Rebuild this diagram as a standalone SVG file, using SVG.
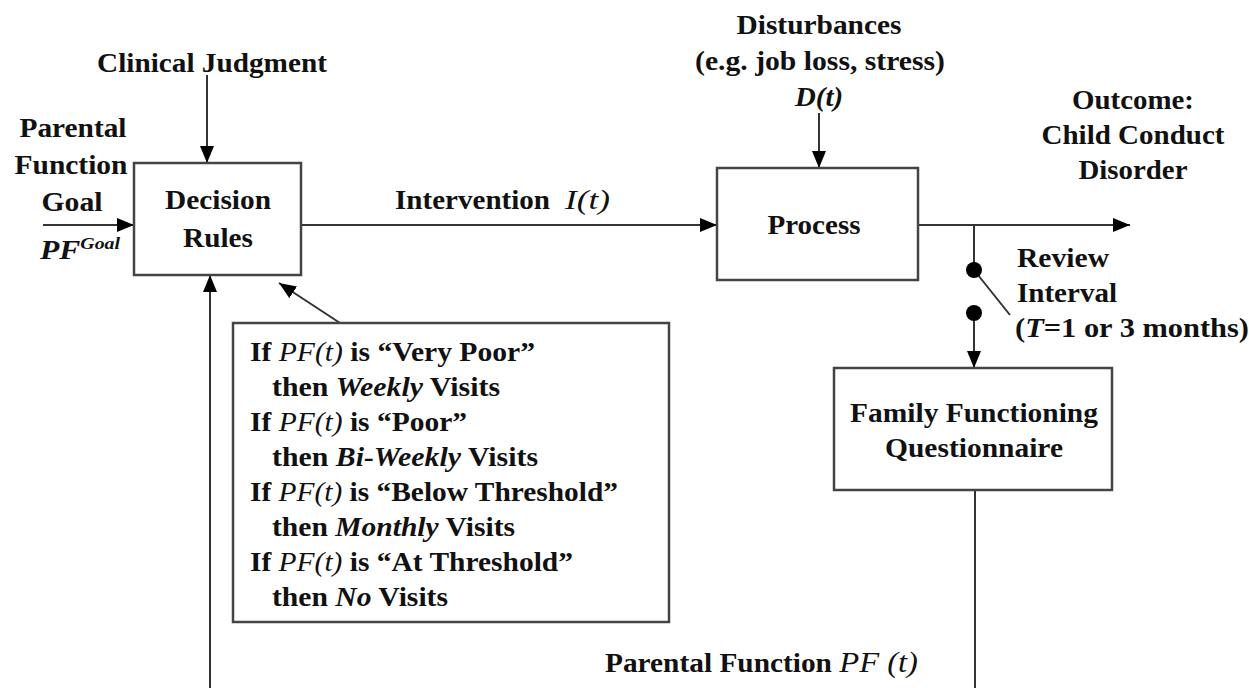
<svg xmlns="http://www.w3.org/2000/svg" width="1249" height="688" viewBox="0 0 1249 688">
<defs>
<marker id="ah" markerUnits="userSpaceOnUse" markerWidth="18" markerHeight="14" refX="17" refY="7" orient="auto">
<path d="M0,0 L17,7 L0,14 Z" fill="#000"/>
</marker>
<style>
text{font-family:"Liberation Serif","Times New Roman",serif;font-weight:bold;font-size:27px;fill:#111}
.c{text-anchor:middle}
.i{font-style:italic}
.n{font-weight:normal}
.box{fill:#fff;stroke:#444;stroke-width:2.5}
.ln{fill:none;stroke:#333;stroke-width:2}
</style>
</defs>
<rect width="1249" height="688" fill="#fff"/>
<g id="connectors">
<line class="ln" x1="207" y1="75" x2="207" y2="163" marker-end="url(#ah)"/>
<line class="ln" x1="43" y1="225" x2="134" y2="225" marker-end="url(#ah)"/>
<line class="ln" x1="301" y1="225" x2="717" y2="225" marker-end="url(#ah)"/>
<line class="ln" x1="819" y1="113" x2="819" y2="168" marker-end="url(#ah)"/>
<line class="ln" x1="918" y1="225" x2="1130" y2="225" marker-end="url(#ah)"/>
<line class="ln" x1="974" y1="225" x2="974" y2="270"/>
<line class="ln" x1="974" y1="270" x2="1010" y2="315"/>
<line class="ln" x1="974" y1="313" x2="974" y2="368" marker-end="url(#ah)"/>
<line class="ln" x1="975" y1="490" x2="975" y2="688"/>
<line class="ln" x1="210" y1="688" x2="210" y2="275" marker-end="url(#ah)"/>
<line class="ln" x1="340" y1="323" x2="279" y2="283" marker-end="url(#ah)"/>
<circle cx="974" cy="270" r="8" fill="#000"/>
<circle cx="974" cy="313" r="8" fill="#000"/>
</g>
<g id="clinical-judgment"><text class="c" x="212" y="72" textLength="230" lengthAdjust="spacingAndGlyphs">Clinical Judgment</text></g>
<g id="goal">
<text class="c" x="73" y="137" textLength="107" lengthAdjust="spacingAndGlyphs">Parental</text>
<text class="c" x="71" y="174" textLength="113" lengthAdjust="spacingAndGlyphs">Function</text>
<text class="c" x="72" y="211" textLength="61" lengthAdjust="spacingAndGlyphs">Goal</text>
<text x="40" y="259" class="i" textLength="80" lengthAdjust="spacingAndGlyphs">PF<tspan font-size="17" dy="-10">Goal</tspan></text>
</g>
<g id="decision-rules">
<rect class="box" x="134" y="163" width="167" height="112"/>
<text class="c" x="218" y="209" textLength="106" lengthAdjust="spacingAndGlyphs">Decision</text>
<text class="c" x="218" y="247" textLength="70" lengthAdjust="spacingAndGlyphs">Rules</text>
</g>
<g id="intervention-label">
<text x="395" y="209" textLength="155" lengthAdjust="spacingAndGlyphs">Intervention</text>
<text x="565" y="209" class="i n" font-size="30" textLength="45" lengthAdjust="spacingAndGlyphs">I(t)</text>
</g>
<g id="process">
<rect class="box" x="717" y="168" width="201" height="112"/>
<text class="c" x="814" y="234" textLength="93" lengthAdjust="spacingAndGlyphs">Process</text>
</g>
<g id="disturbances">
<text class="c" x="819" y="34" textLength="165" lengthAdjust="spacingAndGlyphs">Disturbances</text>
<text class="c" x="820" y="70" textLength="250" lengthAdjust="spacingAndGlyphs">(e.g. job loss, stress)</text>
<text class="c i" x="819" y="106" textLength="48" lengthAdjust="spacingAndGlyphs">D(t)</text>
</g>
<g id="outcome">
<text class="c" x="1133" y="109" textLength="122" lengthAdjust="spacingAndGlyphs">Outcome:</text>
<text class="c" x="1133" y="144" textLength="183" lengthAdjust="spacingAndGlyphs">Child Conduct</text>
<text class="c" x="1133" y="179" textLength="109" lengthAdjust="spacingAndGlyphs">Disorder</text>
</g>
<g id="review-interval">
<text x="1017" y="267" textLength="92" lengthAdjust="spacingAndGlyphs">Review</text>
<text x="1017" y="302" textLength="100" lengthAdjust="spacingAndGlyphs">Interval</text>
<text x="1015" y="337" textLength="234" lengthAdjust="spacingAndGlyphs">(<tspan class="i">T</tspan>=1 or 3 months)</text>
</g>
<g id="rules-box">
<rect class="box" x="233" y="323" width="436" height="299"/>
<text x="250" y="361" textLength="285" lengthAdjust="spacingAndGlyphs">If <tspan class="i n">PF(t)</tspan> is “Very Poor”</text>
<text x="272" y="396" textLength="228" lengthAdjust="spacingAndGlyphs">then <tspan class="i">Weekly</tspan> Visits</text>
<text x="250" y="431" textLength="217" lengthAdjust="spacingAndGlyphs">If <tspan class="i n">PF(t)</tspan> is “Poor”</text>
<text x="272" y="466" textLength="266" lengthAdjust="spacingAndGlyphs">then <tspan class="i">Bi-Weekly</tspan> Visits</text>
<text x="250" y="501" textLength="368" lengthAdjust="spacingAndGlyphs">If <tspan class="i n">PF(t)</tspan> is “Below Threshold”</text>
<text x="272" y="536" textLength="243" lengthAdjust="spacingAndGlyphs">then <tspan class="i">Monthly</tspan> Visits</text>
<text x="250" y="571" textLength="323" lengthAdjust="spacingAndGlyphs">If <tspan class="i n">PF(t)</tspan> is “At Threshold”</text>
<text x="272" y="606" textLength="176" lengthAdjust="spacingAndGlyphs">then <tspan class="i">No</tspan> Visits</text>
</g>
<g id="questionnaire">
<rect class="box" x="834" y="368" width="278" height="122"/>
<text class="c" x="974" y="422" textLength="248" lengthAdjust="spacingAndGlyphs">Family Functioning</text>
<text class="c" x="974" y="457" textLength="178" lengthAdjust="spacingAndGlyphs">Questionnaire</text>
</g>
<g id="pf-label"><text x="605" y="672" textLength="313" lengthAdjust="spacingAndGlyphs">Parental Function <tspan class="i n" font-size="30">PF (t)</tspan></text></g>
</svg>
